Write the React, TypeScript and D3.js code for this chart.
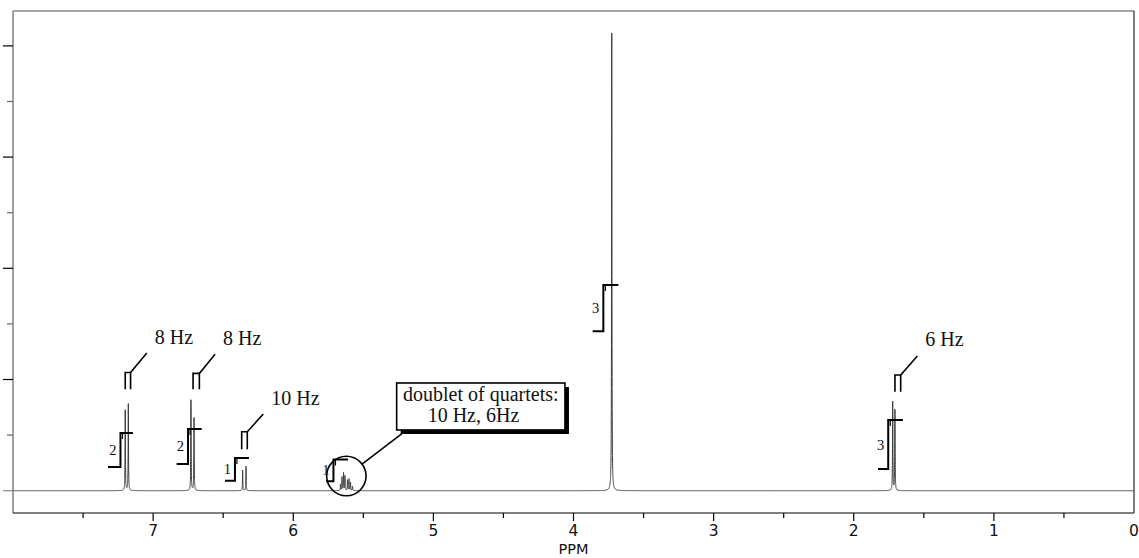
import React from "react";
import * as d3 from "d3";

// Spectrum lines (ppm, relative intensity)
const peakPpm = [7.199, 7.177, 6.730, 6.708, 6.361, 6.337, 5.663, 5.652, 5.641, 5.631, 5.613, 5.602, 5.591, 5.577, 3.727, 1.722, 1.706];
const peakHeight = [1.45, 1.56, 1.63, 1.31, 0.37, 0.44, 0.115, 0.245, 0.32, 0.265, 0.19, 0.21, 0.15, 0.078, 8.23, 1.6, 1.45];
const lineWidthPpm = 0.0015;

// Integrals
const integralLabels = ["2", "2", "1", "1", "3", "3"];
const integralStart = [7.322, 6.832, 6.487, 5.766, 3.863, 1.827];
const integralRise = [7.233, 6.751, 6.416, 5.713, 3.787, 1.754];
const integralEnd = [7.144, 6.653, 6.316, 5.609, 3.680, 1.649];
const integralLow = [0.426, 0.48, 0.18, 0.17, 2.87, 0.39];
const integralHigh = [1.038, 1.11, 0.588, 0.56, 3.70, 1.27];

// Coupling constant annotations
const jLabels = ["8 Hz", "8 Hz", "10 Hz", "6 Hz"];
const jLeft = [7.199, 6.715, 6.368, 1.706];
const jRight = [7.161, 6.670, 6.328, 1.665];
const jTop = [2.127, 2.11, 1.06, 2.08];
const jBottom = [1.825, 1.825, 0.745, 1.78];
const jLeaderPpm = [7.045, 6.558, 6.214, 1.546];
const jLeaderInt = [2.476, 2.453, 1.379, 2.423];

// Callout
const calloutLines = ["doublet of quartets:", "10 Hz, 6Hz"];
const calloutCenterPpm = 5.621;
const calloutCenterInt = 0.264;
const calloutBoxPpm = [5.262, 4.061];
const calloutBoxInt = [1.937, 1.092];

// Axes
const xTickValues = d3.range(0.5, 8, 0.5);
const xLabelValues = [7, 6, 5, 4, 3, 2, 1, 0];
const yTickValues = d3.range(0, 9, 1);

const W = 1139;
const H = 558;
const L = 13, R = 1134, T = 11, B = 513;

export default function App() {
  const x = d3.scaleLinear().domain([8, 0]).range([L, R]);
  const y = d3.scaleLinear().domain([0, 8]).range([490.7, 45.9]);

  const pts: number[] = d3.range(0, 8.0001, 0.002);
  peakPpm.forEach((c) => {
    d3.range(c - 0.03, c + 0.03, 0.0002).forEach((p) => pts.push(p));
    pts.push(c);
  });
  const ppms = Array.from(new Set(pts.map((p) => +p.toFixed(5))))
    .filter((p) => p >= 0 && p <= 8)
    .sort((a, b) => b - a);
  const spec = ppms.map((p) => {
    let s = 0;
    for (let i = 0; i < peakPpm.length; i++) {
      const d = (p - peakPpm[i]) / lineWidthPpm;
      s += peakHeight[i] / (1 + d * d);
    }
    return [p, s] as [number, number];
  });
  const line = d3
    .line<[number, number]>()
    .x((d) => x(d[0]))
    .y((d) => y(d[1]));

  const serif = "'Liberation Serif', 'Times New Roman', serif";
  const sans = "'DejaVu Sans', Verdana, sans-serif";

  const cx = x(calloutCenterPpm);
  const cy = y(calloutCenterInt);
  const r = 19.7;
  const bx0 = x(calloutBoxPpm[0]);
  const bx1 = x(calloutBoxPpm[1]);
  const by0 = y(calloutBoxInt[0]);
  const by1 = y(calloutBoxInt[1]);
  const cornerX = bx0 + 5;
  const cornerY = by1 + 4;
  const dx = cornerX - cx, dy = cornerY - cy;
  const dl = Math.hypot(dx, dy);

  return (
    <div style={{ position: "absolute", left: 0, top: 0 }}>
      <svg width={W} height={H} style={{ display: "block", background: "#fff" }}>
        {/* frame */}
        <line x1={L} x2={R} y1={T} y2={T} stroke="#888" strokeWidth={1.5} />
        <line x1={R} x2={R} y1={T} y2={B} stroke="#000" strokeWidth={1} />
        <line x1={L} x2={L} y1={T} y2={B} stroke="#888" strokeWidth={1.6} />
        <line x1={L} x2={R} y1={B} y2={B} stroke="#000" strokeWidth={1.2} />

        {/* y ticks */}
        {yTickValues.map((v) => (
          <line
            key={"yt" + v}
            x1={v % 2 === 0 ? 3 : 7}
            x2={L}
            y1={y(v)}
            y2={y(v)}
            stroke={v === 0 ? "#888" : v % 2 === 0 ? "#000" : "#666"}
            strokeWidth={1.2}
          />
        ))}

        {/* x ticks */}
        {xTickValues.map((v) => (
          <line
            key={"xt" + v}
            x1={x(v)}
            x2={x(v)}
            y1={B}
            y2={B + (Number.isInteger(v) ? 8 : 5)}
            stroke="#000"
            strokeWidth={1.2}
          />
        ))}
        {xLabelValues.map((v) => (
          <text
            key={"xl" + v}
            x={x(v)}
            y={536}
            textAnchor="middle"
            fontFamily={sans}
            fontSize={15.5}
            fill="#111"
          >
            {v}
          </text>
        ))}
        <text x={x(4)} y={554} textAnchor="middle" fontFamily={sans} fontSize={14.5} fill="#111">
          PPM
        </text>

        {/* spectrum */}
        <path d={line(spec) || ""} fill="none" stroke="#3a3a3a" strokeWidth={1} />

        {/* integrals */}
        {integralLabels.map((lab, i) => {
          const xs = x(integralStart[i]);
          const xr = x(integralRise[i]);
          const xe = x(integralEnd[i]);
          const yl = y(integralLow[i]);
          const yh = y(integralHigh[i]);
          return (
            <g key={"int" + i}>
              <path
                d={`M${xs},${yl}H${xr}V${yh}H${xe}`}
                fill="none"
                stroke="#000"
                strokeWidth={2}
              />
              <line x1={xr + 2} x2={xr + 2} y1={yh} y2={yh + 6} stroke="#000" strokeWidth={1.2} />
              <text
                x={xr - 4}
                y={(yl + yh) / 2}
                textAnchor="end"
                dominantBaseline="central"
                fontFamily={serif}
                fontSize={14.5}
                fill="#111"
              >
                {lab}
              </text>
            </g>
          );
        })}

        {/* J annotations */}
        {jLabels.map((lab, i) => {
          const xl = x(jLeft[i]);
          const xr = x(jRight[i]);
          const yt = y(jTop[i]);
          const yb = y(jBottom[i]);
          const ex = x(jLeaderPpm[i]);
          const ey = y(jLeaderInt[i]);
          return (
            <g key={"j" + i}>
              <path
                d={`M${xl},${yb}V${yt}H${xr}V${yb}`}
                fill="none"
                stroke="#000"
                strokeWidth={1.6}
              />
              <line x1={xr} y1={yt} x2={ex} y2={ey} stroke="#000" strokeWidth={1.6} />
              <text x={ex + 8} y={ey - 9.5} fontFamily={serif} fontSize={20} fill="#111">
                {lab}
              </text>
            </g>
          );
        })}

        {/* callout */}
        <circle cx={cx} cy={cy} r={r} fill="none" stroke="#000" strokeWidth={1.6} />
        <line
          x1={cx + (dx / dl) * r}
          y1={cy + (dy / dl) * r}
          x2={cornerX}
          y2={cornerY}
          stroke="#000"
          strokeWidth={1.6}
        />
        <rect x={bx0 + 4} y={by0 + 4} width={bx1 - bx0} height={by1 - by0} fill="#000" />
        <rect x={bx0} y={by0} width={bx1 - bx0} height={by1 - by0} fill="#fff" stroke="#000" strokeWidth={1.6} />
        <text x={(bx0 + bx1) / 2} y={by0 + 18} textAnchor="middle" fontFamily={serif} fontSize={20} fill="#111">
          {calloutLines[0]}
        </text>
        <text x={bx0 + 31} y={by0 + 38.5} fontFamily={serif} fontSize={20} fill="#111">
          {calloutLines[1]}
        </text>
      </svg>
    </div>
  );
}
